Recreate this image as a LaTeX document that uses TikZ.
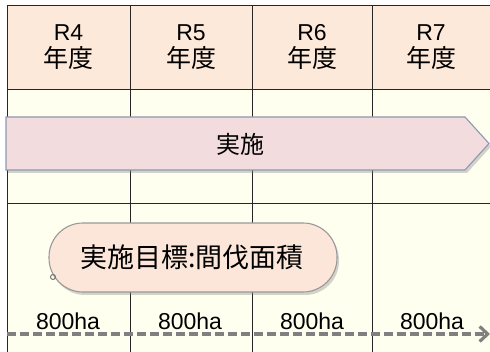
\documentclass[tikz,border=0pt]{standalone}
\usepackage{fontspec}
\setmainfont{Liberation Sans}
\newfontfamily\jp{Noto Sans CJK JP}
\usetikzlibrary{shadows,arrows.meta,calc}
\definecolor{hdr}{HTML}{FDE9DA}
\definecolor{body}{HTML}{FFFFEF}
\definecolor{arrowfill}{HTML}{F2DCDE}
\definecolor{arrowline}{HTML}{8C99B0}
\definecolor{callfill}{HTML}{FCE6DA}
\definecolor{dashgray}{HTML}{808080}
\tikzset{
  grid/.style={draw=black!85, line width=0.9pt},
  rtext/.style={font=\fontsize{23}{23}\selectfont, inner sep=0pt},
  ytext/.style={font=\jp\fontsize{25}{25}\selectfont, inner sep=0pt},
  hatext/.style={font=\fontsize{23}{23}\selectfont, inner sep=0pt},
}
\begin{document}
\begin{tikzpicture}[x=1pt,y=-1pt]
\useasboundingbox (0,0) rectangle (490,352);
% backgrounds
\fill[hdr] (7,5) rectangle (490,89);
\fill[body] (7,89) rectangle (490,352);
% grid
\draw[grid] (7,5) -- (490,5);
\draw[grid] (7,89) -- (490,89);
\draw[grid] (7,203) -- (490,203);
\foreach \x in {7,130,252,372} { \draw[grid] (\x,5) -- (\x,352); }
% headers
\foreach \n/\x in {4/68.5,5/191,6/312,7/431} {
  \node[rtext] (r\n) at (\x,33) {R\n};
  \node[ytext] (y\n) at (\x,58) {年度};
}
% arrow
\path[fill=arrowfill, draw=arrowline, line width=1.1pt,
  drop shadow={shadow xshift=2pt, shadow yshift=-3pt, opacity=0.35}]
  (6,117) -- (465,117) -- (489,143.5) -- (465,170) -- (6,170) -- cycle;
\node[font=\jp\fontsize{24}{24}\selectfont, inner sep=0pt] (jisshi) at (240,144) {実施};
% callout
\path[fill=callfill, draw=gray!80, line width=1.1pt, rounded corners=34pt,
  drop shadow={shadow xshift=2pt, shadow yshift=-3pt, opacity=0.35}]
  (49,223) rectangle (337,292);
\draw[gray!90!black, line width=1pt] (53,277) circle[radius=2.5];
\node[font=\jp\fontsize{27}{27}\selectfont, inner sep=0pt] (goal) at (192,257.5) {実施目標:間伐面積};
% dashed arrow
\coordinate (ds) at (7,334);
\coordinate (de) at (490,334);
\draw[dashgray, line width=3.5pt, dash pattern=on 9pt off 4pt,
  -{Straight Barb[length=8pt,width=15pt,line width=3.2pt]}] (ds) -- (de);
% labels
\node[hatext] (a4) at (68,321) {800ha};
\node[hatext] (a5) at (190,321) {800ha};
\node[hatext] (a6) at (312,321) {800ha};
\node[hatext] (a7) at (432,321) {800ha};
\end{tikzpicture}
\end{document}
